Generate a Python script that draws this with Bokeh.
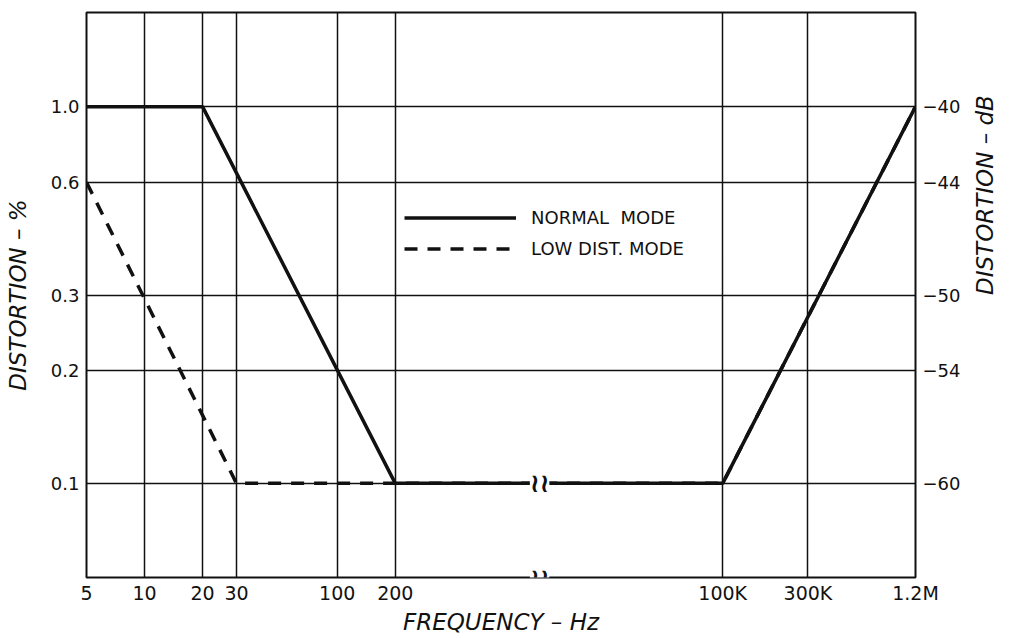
import math
import numpy as np
from bokeh.plotting import figure
from bokeh.models import (FixedTicker, LinearAxis, Label, Legend, LegendItem,
                          Range1d)
from bokeh.embed import file_html
from bokeh.resources import INLINE

# ---------------- data ----------------
freq_ticks = [5, 10, 20, 30, 100, 200, 100e3, 300e3, 1.2e6]
freq_tick_labels = ["5", "10", "20", "30", "100", "200", "100K", "300K", "1.2M"]

db_ticks = [-40, -44, -50, -54, -60]
pct_tick_labels = ["1.0", "0.6", "0.3", "0.2", "0.1"]
db_tick_labels = ["\u221240", "\u221244", "\u221250", "\u221254", "\u221260"]

normal_freq = [5, 20, 200, 100e3, 1.2e6]
normal_pct = [1.0, 1.0, 0.1, 0.1, 1.0]

lowdist_freq = [5, 30, 100e3, 1.2e6]
lowdist_pct = [0.63, 0.1, 0.1, 1.0]

# ---------------- broken frequency axis ----------------
# below 1 kHz: plain decades; above the break the axis restarts at 100K
HIGH_START = 4.0      # axis position of 100 kHz
HIGH_SCALE = 0.927    # decade compression of the upper segment
BREAK_X = 3.05        # where the break symbol sits


def axis_x(f):
    lf = np.log10(np.asarray(f, dtype=float))
    return np.where(lf <= 3, lf, HIGH_START + (lf - 5) * HIGH_SCALE)


def to_db(pct):
    return 20 * np.log10(np.asarray(pct, dtype=float) / 100.0)


xt = [float(v) for v in axis_x(freq_ticks)]
x_start, x_end = xt[0], xt[-1]

INK = "#111111"
FONT = "DejaVu Sans"

p = figure(width=1014, height=637, output_backend="svg", toolbar_location=None,
           x_range=Range1d(x_start, x_end), y_range=Range1d(-65, -35),
           min_border_left=86, min_border_right=99, min_border_top=12,
           min_border_bottom=60)
p.background_fill_color = "white"
p.border_fill_color = "white"
p.outline_line_color = INK
p.outline_line_width = 2

# x axis
p.xaxis.ticker = FixedTicker(ticks=xt)
p.xaxis.major_label_overrides = dict(zip(xt, freq_tick_labels))
p.xaxis.axis_label = "FREQUENCY \u2013 Hz"

# left axis
p.yaxis.ticker = FixedTicker(ticks=db_ticks)
p.yaxis.major_label_overrides = dict(zip(db_ticks, pct_tick_labels))
p.yaxis.axis_label = "DISTORTION \u2013 %"

# right axis
ra = LinearAxis(ticker=FixedTicker(ticks=db_ticks),
                major_label_overrides=dict(zip(db_ticks, db_tick_labels)),
                axis_label="DISTORTION \u2013 dB")
ra.axis_label_orientation = math.pi / 2
p.add_layout(ra, "right")

for ax in [p.xaxis[0], p.yaxis[0], ra]:
    ax.axis_line_color = None
    ax.major_tick_line_color = None
    ax.minor_tick_line_color = None
    ax.major_tick_out = 0
    ax.major_tick_in = 0
    ax.major_label_text_font = FONT
    ax.major_label_text_color = INK
    ax.axis_label_text_font = FONT
    ax.axis_label_text_font_style = "italic"
    ax.axis_label_text_color = INK
    ax.axis_label_text_font_size = "23px"

p.xaxis.major_label_text_font_size = "19px"
p.xaxis.major_label_standoff = 4
p.xaxis.axis_label_standoff = 2
p.yaxis.major_label_text_font_size = "18px"
p.yaxis.major_label_standoff = 7
p.yaxis.axis_label_standoff = 17
ra.major_label_text_font_size = "18px"
ra.major_label_standoff = 7
ra.axis_label_standoff = 22

# grid
p.xgrid.ticker = FixedTicker(ticks=xt)
p.ygrid.ticker = FixedTicker(ticks=db_ticks)
for g in [p.xgrid[0], p.ygrid[0]]:
    g.grid_line_color = INK
    g.grid_line_width = 1.5
    g.grid_line_alpha = 1.0

# curves
r_norm = p.line(axis_x(normal_freq), to_db(normal_pct), line_color=INK,
                line_width=3.5)
r_low = p.line(axis_x(lowdist_freq), to_db(lowdist_pct), line_color=INK,
               line_width=3.5, line_dash="13 10")

# break symbols on the curve and on the bottom edge
for yb in [-60, -65]:
    p.add_layout(Label(x=BREAK_X, y=yb, text="\u2240\u2240", text_align="center",
                       text_baseline="middle", text_font=FONT,
                       text_font_size="26px", text_font_style="bold",
                       text_color=INK, background_fill_color="white",
                       level="overlay"))

legend = Legend(items=[LegendItem(label="NORMAL  MODE", renderers=[r_norm]),
                       LegendItem(label="LOW DIST. MODE", renderers=[r_low])],
                location=(318, 316), orientation="vertical",
                glyph_width=112, glyph_height=25, label_height=25,
                label_standoff=15, spacing=6, padding=0, margin=0,
                border_line_color=None, background_fill_alpha=0,
                label_text_font=FONT, label_text_font_size="18px",
                label_text_color=INK)
p.add_layout(legend, "center")

open("out.html", "w").write(file_html(p, INLINE))
